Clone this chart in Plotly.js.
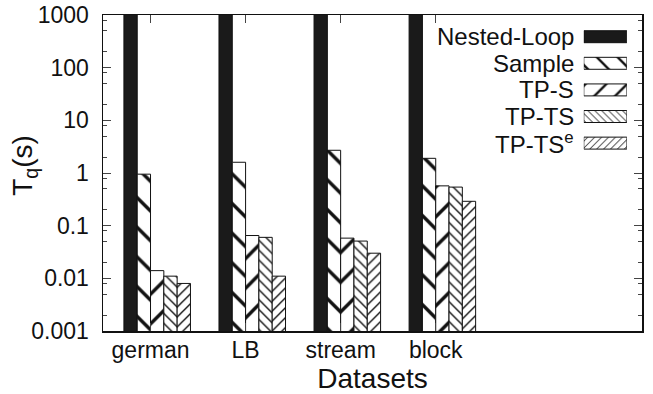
<!DOCTYPE html>
<html>
<head>
<meta charset="utf-8">
<script src="https://cdn.plot.ly/plotly-3.0.1.min.js"></script>
<style>html,body{margin:0;padding:0;background:#fff;}#chart{width:653px;height:394px;}</style>
</head>
<body>
<div id="chart"></div>
<script>
// ---- data ----
const categories = ['german', 'LB', 'stream', 'block'];
const seriesNames = ['Nested-Loop', 'Sample', 'TP-S', 'TP-TS', 'TP-TS<sup>e</sup>'];
const nestedLoop = [5000, 5000, 5000, 5000];   // runs off the top of the chart
const sample     = [0.95, 1.6, 2.7, 1.9];
const tpS        = [0.014, 0.065, 0.058, 0.57];
const tpTS       = [0.011, 0.060, 0.051, 0.54];
const tpTSe      = [0.008, 0.011, 0.030, 0.29];
const yTickLabels = ['0.001', '0.01', '0.1', '1', '10', '100', '1000'];

// ---- styles ----
const FONT = 'Liberation Sans, Arial, Helvetica, sans-serif';
const styles = [
  {color: '#1a1a1a', shape: '',   size: 8,  solidity: 0.3},
  {color: '#ffffff', shape: '\\', size: 21, solidity: 0.16},
  {color: '#ffffff', shape: '/',  size: 21, solidity: 0.16},
  {color: '#ffffff', shape: '\\', size: 7,  solidity: 0.2},
  {color: '#ffffff', shape: '/',  size: 7,  solidity: 0.2}
];
const allSeries = [nestedLoop, sample, tpS, tpTS, tpTSe];
const xPos = categories.map((c, i) => i);

function markerFor(k, sizeScale) {
  const m = {color: styles[k].color, line: {color: '#111', width: 1}};
  if (styles[k].shape) {
    m.pattern = {shape: styles[k].shape, size: styles[k].size * sizeScale, solidity: styles[k].solidity,
                 fgcolor: '#111', bgcolor: '#fff', fillmode: 'replace'};
  }
  return m;
}

const traces = allSeries.map((vals, k) => ({
  type: 'bar',
  name: seriesNames[k],
  x: xPos,
  y: vals,
  xaxis: 'x', yaxis: 'y',
  marker: markerFor(k, 1),
  hoverinfo: 'skip',
  showlegend: false
}));

// custom legend (text left of swatch), drawn with a small bar subplot
seriesNames.forEach((n, k) => {
  traces.push({
    type: 'bar',
    orientation: 'h',
    x: [1],
    y: [k],
    width: 0.45,
    offset: -0.225,
    xaxis: 'x2', yaxis: 'y2',
    marker: markerFor(k, 0.7),
    hoverinfo: 'skip',
    showlegend: false
  });
});

// minor log ticks at 2,5,8 of each decade
const minorVals = [];
for (let e = -3; e < 3; e++) { [2, 5, 8].forEach(m => minorVals.push(m * Math.pow(10, e))); }
const majorVals = yTickLabels.map(Number);

const annotations = seriesNames.map((n, k) => ({
  text: n, xref: 'paper', yref: 'y2', x: 0.8776, y: k,
  xanchor: 'right', yanchor: 'middle', showarrow: false,
  font: {family: FONT, size: 24, color: '#111'}
}));
annotations.push({
  text: 'T<sub>q</sub>(s)', xref: 'paper', yref: 'paper', x: -0.147, y: 0.525,
  xanchor: 'center', yanchor: 'middle', textangle: -90, showarrow: false,
  font: {family: FONT, size: 28, color: '#111'}
});

const layout = {
  width: 653, height: 394,
  margin: {l: 103, r: 11, t: 15, b: 63},
  paper_bgcolor: '#fff', plot_bgcolor: '#fff',
  font: {family: FONT, size: 23, color: '#111'},
  barmode: 'group', bargap: 0.3, bargroupgap: 0,
  showlegend: false,
  xaxis: {
    type: 'linear', range: [-0.57, 5.10],
    tickmode: 'array', tickvals: xPos.map(v => v - 0.07), ticktext: categories,
    ticks: 'inside', ticklen: 8, tickcolor: '#444', tickwidth: 1,
    showline: true, linecolor: '#111', linewidth: 1.5, mirror: 'ticks',
    showgrid: false, zeroline: false, ticklabelstandoff: -2,
    tickfont: {family: FONT, size: 23, color: '#111'},
    title: {text: 'Datasets', font: {family: FONT, size: 28, color: '#111'}, standoff: 2}
  },
  yaxis: {
    type: 'log', range: [-3, 3],
    tickmode: 'array', tickvals: majorVals, ticktext: yTickLabels,
    ticks: 'inside', ticklen: 8, tickcolor: '#444', tickwidth: 1,
    minor: {tickmode: 'array', tickvals: minorVals, ticks: 'inside', ticklen: 4, tickcolor: '#444', tickwidth: 1, showgrid: false},
    showline: true, linecolor: '#111', linewidth: 1.5, mirror: 'ticks',
    showgrid: false, zeroline: false, ticklabelstandoff: 8,
    tickfont: {family: FONT, size: 23, color: '#111'}
  },
  xaxis2: {domain: [0.892, 0.972], range: [0, 1], anchor: 'y2', visible: false, fixedrange: true},
  yaxis2: {domain: [0.5525, 0.9734], range: [4.5, -0.5], anchor: 'x2', visible: false, fixedrange: true},
  annotations: annotations
};

Plotly.newPlot('chart', traces, layout, {staticPlot: true, displayModeBar: false});
</script>
</body>
</html>
